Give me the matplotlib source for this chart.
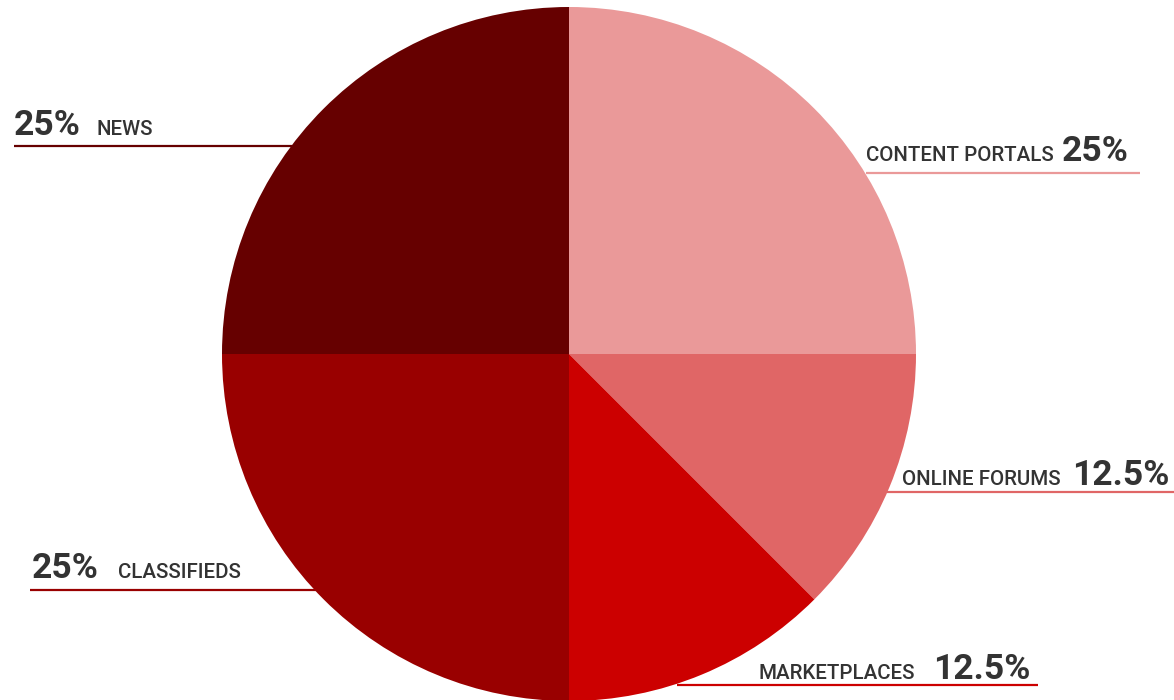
import matplotlib
matplotlib.use("Agg")
import matplotlib.pyplot as plt

# data
labels = ["CONTENT PORTALS", "ONLINE FORUMS", "MARKETPLACES", "CLASSIFIEDS", "NEWS"]
values = [25, 12.5, 12.5, 25, 25]
pct_text = ["25%", "12.5%", "12.5%", "25%", "25%"]
colors = ["#ea9999", "#e06666", "#cc0000", "#990000", "#660000"]

W, H = 1174, 700
CX, CY, R = 569, 354, 347

def fy(y):
    # pixel row -> data y
    return H - y

fig = plt.figure(figsize=(W / 100, H / 100), dpi=100)
ax = fig.add_axes([0, 0, 1, 1])

ax.pie(values, colors=colors, startangle=90, counterclock=False,
       center=(CX, fy(CY)), radius=R, frame=True,
       wedgeprops=dict(linewidth=0))
ax.set_xlim(0, W)
ax.set_ylim(0, H)
ax.axis("off")

# label layout: (line x0, line x1, line y, name x, pct x, baseline)
layout = [
    (866, 1140, 173, 866, 1062, 161),
    (887, 1174, 492, 902, 1072, 485),
    (677, 1038, 685, 758, 933, 679),
    (30, 316, 590, 118, 32, 578),
    (14, 292, 146, 96, 14, 135),
]

txt = "#333333"
for lab, pct, col, (x0, x1, ly, nx, px, base) in zip(labels, pct_text, colors, layout):
    ax.plot([x0, x1], [fy(ly), fy(ly)], color=col, lw=1.6, zorder=1,
            solid_capstyle="butt")
    ax.text(nx, fy(base), lab, fontsize=14.8, family="Roboto", weight="medium",
            color=txt, ha="left", va="baseline")
    ax.text(px, fy(base), pct, fontsize=25.5, family="Roboto", weight="bold",
            color=txt, ha="left", va="baseline")

fig.savefig("out.png", dpi=100)
